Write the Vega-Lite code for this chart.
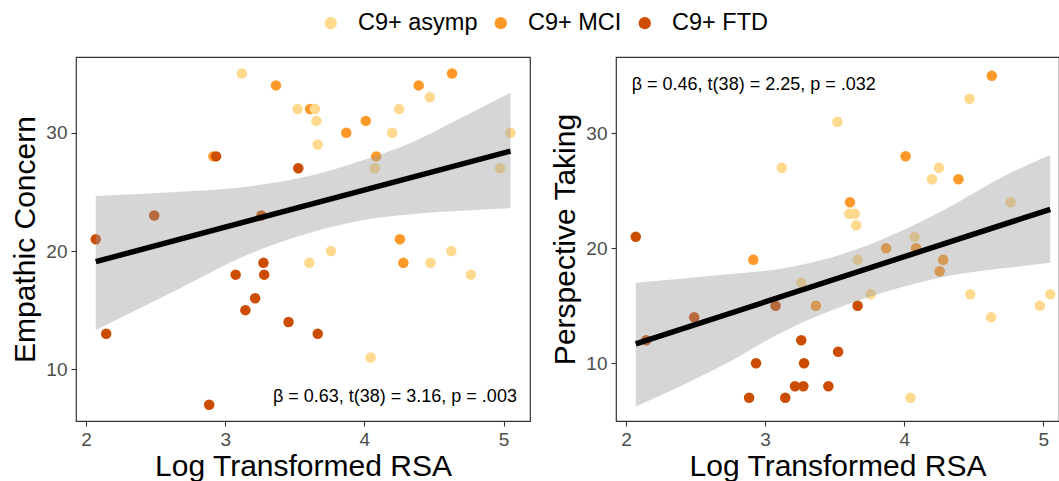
{
  "$schema": "https://vega.github.io/schema/vega-lite/v6.json",
  "background": "white",
  "padding": {"left": 10, "top": 11, "right": 0, "bottom": 0},
  "config": {
    "font": "Liberation Sans",
    "view": {"stroke": "#333333", "strokeWidth": 1.2},
    "axis": {
      "grid": false, "domain": false, "tickColor": "#333333", "tickSize": 5, "tickWidth": 1.1,
      "labelFontSize": 19, "labelColor": "#4D4D4D", "labelPadding": 4, "labelFont": "Liberation Sans",
      "titleFontSize": 30, "titleFontWeight": "normal", "titleColor": "black", "titleFont": "Liberation Sans",
      "format": "d"
    },
    "axisX": {"titlePadding": 2},
    "axisY": {"titlePadding": 5}
  },
  "datasets": {
    "ec": [
      {"rsa": 2.915, "score": 28, "group": "C9+ MCI"},
      {"rsa": 3.365, "score": 34, "group": "C9+ MCI"},
      {"rsa": 3.61, "score": 32, "group": "C9+ MCI"},
      {"rsa": 3.87, "score": 30, "group": "C9+ MCI"},
      {"rsa": 4.01, "score": 31, "group": "C9+ MCI"},
      {"rsa": 4.39, "score": 34, "group": "C9+ MCI"},
      {"rsa": 4.63, "score": 35, "group": "C9+ MCI"},
      {"rsa": 4.085, "score": 28, "group": "C9+ MCI"},
      {"rsa": 4.255, "score": 21, "group": "C9+ MCI"},
      {"rsa": 4.28, "score": 19, "group": "C9+ MCI"},
      {"rsa": 3.12, "score": 35, "group": "C9+ asymp"},
      {"rsa": 3.52, "score": 32, "group": "C9+ asymp"},
      {"rsa": 3.645, "score": 32, "group": "C9+ asymp"},
      {"rsa": 3.655, "score": 31, "group": "C9+ asymp"},
      {"rsa": 3.665, "score": 29, "group": "C9+ asymp"},
      {"rsa": 4.2, "score": 30, "group": "C9+ asymp"},
      {"rsa": 4.25, "score": 32, "group": "C9+ asymp"},
      {"rsa": 4.47, "score": 33, "group": "C9+ asymp"},
      {"rsa": 4.075, "score": 27, "group": "C9+ asymp"},
      {"rsa": 5.05, "score": 30, "group": "C9+ asymp"},
      {"rsa": 4.975, "score": 27, "group": "C9+ asymp"},
      {"rsa": 3.76, "score": 20, "group": "C9+ asymp"},
      {"rsa": 3.605, "score": 19, "group": "C9+ asymp"},
      {"rsa": 4.475, "score": 19, "group": "C9+ asymp"},
      {"rsa": 4.625, "score": 20, "group": "C9+ asymp"},
      {"rsa": 4.765, "score": 18, "group": "C9+ asymp"},
      {"rsa": 4.045, "score": 11, "group": "C9+ asymp"},
      {"rsa": 2.935, "score": 28, "group": "C9+ FTD"},
      {"rsa": 2.49, "score": 23, "group": "C9+ FTD"},
      {"rsa": 2.07, "score": 21, "group": "C9+ FTD"},
      {"rsa": 3.26, "score": 23, "group": "C9+ FTD"},
      {"rsa": 3.275, "score": 19, "group": "C9+ FTD"},
      {"rsa": 2.145, "score": 13, "group": "C9+ FTD"},
      {"rsa": 2.885, "score": 7, "group": "C9+ FTD"},
      {"rsa": 3.075, "score": 18, "group": "C9+ FTD"},
      {"rsa": 3.28, "score": 18, "group": "C9+ FTD"},
      {"rsa": 3.215, "score": 16, "group": "C9+ FTD"},
      {"rsa": 3.145, "score": 15, "group": "C9+ FTD"},
      {"rsa": 3.525, "score": 27, "group": "C9+ FTD"},
      {"rsa": 3.455, "score": 14, "group": "C9+ FTD"},
      {"rsa": 3.665, "score": 13, "group": "C9+ FTD"}
    ],
    "pt": [
      {"rsa": 2.915, "score": 19, "group": "C9+ MCI"},
      {"rsa": 3.365, "score": 15, "group": "C9+ MCI"},
      {"rsa": 3.61, "score": 24, "group": "C9+ MCI"},
      {"rsa": 3.87, "score": 20, "group": "C9+ MCI"},
      {"rsa": 4.01, "score": 28, "group": "C9+ MCI"},
      {"rsa": 4.085, "score": 20, "group": "C9+ MCI"},
      {"rsa": 4.255, "score": 18, "group": "C9+ MCI"},
      {"rsa": 4.28, "score": 19, "group": "C9+ MCI"},
      {"rsa": 4.39, "score": 26, "group": "C9+ MCI"},
      {"rsa": 4.63, "score": 35, "group": "C9+ MCI"},
      {"rsa": 3.12, "score": 27, "group": "C9+ asymp"},
      {"rsa": 3.52, "score": 31, "group": "C9+ asymp"},
      {"rsa": 3.605, "score": 23, "group": "C9+ asymp"},
      {"rsa": 3.645, "score": 23, "group": "C9+ asymp"},
      {"rsa": 3.655, "score": 22, "group": "C9+ asymp"},
      {"rsa": 3.665, "score": 19, "group": "C9+ asymp"},
      {"rsa": 3.76, "score": 16, "group": "C9+ asymp"},
      {"rsa": 4.045, "score": 7, "group": "C9+ asymp"},
      {"rsa": 4.075, "score": 21, "group": "C9+ asymp"},
      {"rsa": 4.2, "score": 26, "group": "C9+ asymp"},
      {"rsa": 4.25, "score": 27, "group": "C9+ asymp"},
      {"rsa": 4.47, "score": 33, "group": "C9+ asymp"},
      {"rsa": 4.475, "score": 16, "group": "C9+ asymp"},
      {"rsa": 4.625, "score": 14, "group": "C9+ asymp"},
      {"rsa": 4.765, "score": 24, "group": "C9+ asymp"},
      {"rsa": 4.975, "score": 15, "group": "C9+ asymp"},
      {"rsa": 5.05, "score": 16, "group": "C9+ asymp"},
      {"rsa": 3.26, "score": 17, "group": "C9+ asymp"},
      {"rsa": 2.07, "score": 21, "group": "C9+ FTD"},
      {"rsa": 2.145, "score": 12, "group": "C9+ FTD"},
      {"rsa": 2.49, "score": 14, "group": "C9+ FTD"},
      {"rsa": 2.885, "score": 7, "group": "C9+ FTD"},
      {"rsa": 2.935, "score": 10, "group": "C9+ FTD"},
      {"rsa": 3.075, "score": 15, "group": "C9+ FTD"},
      {"rsa": 3.145, "score": 7, "group": "C9+ FTD"},
      {"rsa": 3.215, "score": 8, "group": "C9+ FTD"},
      {"rsa": 3.26, "score": 12, "group": "C9+ FTD"},
      {"rsa": 3.275, "score": 8, "group": "C9+ FTD"},
      {"rsa": 3.28, "score": 10, "group": "C9+ FTD"},
      {"rsa": 3.455, "score": 8, "group": "C9+ FTD"},
      {"rsa": 3.525, "score": 11, "group": "C9+ FTD"},
      {"rsa": 3.665, "score": 15, "group": "C9+ FTD"}
    ],
    "ecband": [
      {"rsa": 2.07, "lo": 13.32, "hi": 24.65},
      {"rsa": 2.676, "lo": 16.85, "hi": 25.01},
      {"rsa": 3.155, "lo": 19.66, "hi": 25.44},
      {"rsa": 3.634, "lo": 21.63, "hi": 26.42},
      {"rsa": 3.994, "lo": 22.62, "hi": 27.69},
      {"rsa": 4.353, "lo": 23.13, "hi": 29.24},
      {"rsa": 4.665, "lo": 23.38, "hi": 31.07},
      {"rsa": 5.05, "lo": 23.61, "hi": 33.38}
    ],
    "ptband": [
      {"rsa": 2.07, "lo": 6.23, "hi": 17.01},
      {"rsa": 2.676, "lo": 9.7, "hi": 17.68},
      {"rsa": 3.155, "lo": 12.9, "hi": 18.3},
      {"rsa": 3.634, "lo": 15.3, "hi": 19.8},
      {"rsa": 3.994, "lo": 16.66, "hi": 21.59},
      {"rsa": 4.353, "lo": 17.68, "hi": 23.77},
      {"rsa": 4.712, "lo": 18.26, "hi": 26.23},
      {"rsa": 5.05, "lo": 18.75, "hi": 28.11}
    ],
    "ecline": [
      {"rsa": 2.07, "fit": 19.1},
      {"rsa": 5.05, "fit": 28.45}
    ],
    "ptline": [
      {"rsa": 2.07, "fit": 11.68},
      {"rsa": 5.05, "fit": 23.39}
    ]
  },
  "spacing": 86,
  "bounds": "flush",
  "resolve": {"legend": {"color": "shared"}, "scale": {"color": "shared"}},
  "hconcat": [
    {
      "width": 454,
      "height": 364,
      "layer": [
        {
          "data": {"name": "ec"},
          "mark": {"type": "circle", "size": 110, "opacity": 1},
          "encoding": {
            "x": {"field": "rsa", "type": "quantitative",
                  "scale": {"domain": [1.928, 5.19], "nice": false, "zero": false},
                  "axis": {"values": [2, 3, 4, 5], "title": "Log Transformed RSA", "format": "d"}},
            "y": {"field": "score", "type": "quantitative",
                  "scale": {"domain": [5.63, 36.4], "nice": false, "zero": false},
                  "axis": {"values": [10, 20, 30], "title": "Empathic Concern", "format": "d"}},
            "color": {"field": "group", "type": "nominal",
                      "scale": {"domain": ["C9+ asymp", "C9+ MCI", "C9+ FTD"], "range": ["#FED98E", "#FE9929", "#CC4C02"]},
                      "legend": {"orient": "none", "legendX": 243, "legendY": -46, "direction": "horizontal", "title": null,
                                 "symbolType": "circle", "symbolSize": 150, "symbolStrokeWidth": 0, "symbolOpacity": 1,
                                 "labelFontSize": 23.5, "labelColor": "black", "labelFont": "Liberation Sans",
                                 "columnPadding": 11, "labelOffset": 15.5, "padding": 0}}
          }
        },
        {
          "data": {"name": "ecband"},
          "mark": {"type": "area", "color": "#999999", "opacity": 0.4, "interpolate": "monotone"},
          "encoding": {
            "x": {"field": "rsa", "type": "quantitative",
                  "scale": {"domain": [1.928, 5.19], "nice": false, "zero": false},
                  "axis": {"values": [2, 3, 4, 5], "title": "Log Transformed RSA", "format": "d"}},
            "y": {"field": "lo", "type": "quantitative",
                  "scale": {"domain": [5.63, 36.4], "nice": false, "zero": false},
                  "axis": {"values": [10, 20, 30], "title": "Empathic Concern", "format": "d"}},
            "y2": {"field": "hi"}
          }
        },
        {
          "data": {"name": "ecline"},
          "mark": {"type": "line", "color": "black", "strokeWidth": 5.5},
          "encoding": {
            "x": {"field": "rsa", "type": "quantitative",
                  "scale": {"domain": [1.928, 5.19], "nice": false, "zero": false},
                  "axis": {"values": [2, 3, 4, 5], "title": "Log Transformed RSA", "format": "d"}},
            "y": {"field": "fit", "type": "quantitative",
                  "scale": {"domain": [5.63, 36.4], "nice": false, "zero": false},
                  "axis": {"values": [10, 20, 30], "title": "Empathic Concern", "format": "d"}}
          }
        },
        {
          "data": {"values": [{"label": "β = 0.63, t(38) = 3.16, p = .003"}]},
          "mark": {"type": "text", "align": "right", "baseline": "middle", "fontSize": 18, "color": "black", "font": "Liberation Sans"},
          "encoding": {
            "x": {"datum": 5.096, "type": "quantitative"},
            "y": {"datum": 7.68, "type": "quantitative"},
            "text": {"field": "label", "type": "nominal"}
          }
        }
      ]
    },
    {
      "width": 443,
      "height": 364,
      "layer": [
        {
          "data": {"name": "pt"},
          "mark": {"type": "circle", "size": 110, "opacity": 1},
          "encoding": {
            "x": {"field": "rsa", "type": "quantitative",
                  "scale": {"domain": [1.928, 5.113], "nice": false, "zero": false},
                  "axis": {"values": [2, 3, 4, 5], "title": "Log Transformed RSA", "format": "d"}},
            "y": {"field": "score", "type": "quantitative",
                  "scale": {"domain": [4.98, 36.63], "nice": false, "zero": false},
                  "axis": {"values": [10, 20, 30], "title": "Perspective Taking", "format": "d"}},
            "color": {"field": "group", "type": "nominal",
                      "scale": {"domain": ["C9+ asymp", "C9+ MCI", "C9+ FTD"], "range": ["#FED98E", "#FE9929", "#CC4C02"]},
                      "legend": {"orient": "none", "legendX": 243, "legendY": -46, "direction": "horizontal", "title": null,
                                 "symbolType": "circle", "symbolSize": 150, "symbolStrokeWidth": 0, "symbolOpacity": 1,
                                 "labelFontSize": 23.5, "labelColor": "black", "labelFont": "Liberation Sans",
                                 "columnPadding": 11, "labelOffset": 15.5, "padding": 0}}
          }
        },
        {
          "data": {"name": "ptband"},
          "mark": {"type": "area", "color": "#999999", "opacity": 0.4, "interpolate": "monotone"},
          "encoding": {
            "x": {"field": "rsa", "type": "quantitative",
                  "scale": {"domain": [1.928, 5.113], "nice": false, "zero": false},
                  "axis": {"values": [2, 3, 4, 5], "title": "Log Transformed RSA", "format": "d"}},
            "y": {"field": "lo", "type": "quantitative",
                  "scale": {"domain": [4.98, 36.63], "nice": false, "zero": false},
                  "axis": {"values": [10, 20, 30], "title": "Perspective Taking", "format": "d"}},
            "y2": {"field": "hi"}
          }
        },
        {
          "data": {"name": "ptline"},
          "mark": {"type": "line", "color": "black", "strokeWidth": 5.5},
          "encoding": {
            "x": {"field": "rsa", "type": "quantitative",
                  "scale": {"domain": [1.928, 5.113], "nice": false, "zero": false},
                  "axis": {"values": [2, 3, 4, 5], "title": "Log Transformed RSA", "format": "d"}},
            "y": {"field": "fit", "type": "quantitative",
                  "scale": {"domain": [4.98, 36.63], "nice": false, "zero": false},
                  "axis": {"values": [10, 20, 30], "title": "Perspective Taking", "format": "d"}}
          }
        },
        {
          "data": {"values": [{"label": "β = 0.46, t(38) = 2.25, p = .032"}]},
          "mark": {"type": "text", "align": "left", "baseline": "middle", "fontSize": 18, "color": "black", "font": "Liberation Sans"},
          "encoding": {
            "x": {"datum": 2.041, "type": "quantitative"},
            "y": {"datum": 34.2, "type": "quantitative"},
            "text": {"field": "label", "type": "nominal"}
          }
        }
      ]
    }
  ]
}
